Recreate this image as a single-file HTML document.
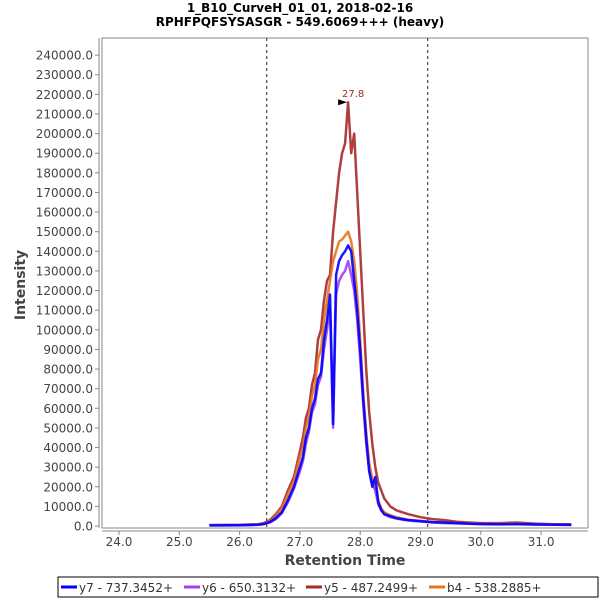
<!DOCTYPE html>
<html><head><meta charset="utf-8">
<style>
html,body{margin:0;padding:0;background:#fff;}
svg{display:block;font-family:"DejaVu Sans","Liberation Sans",sans-serif;}
</style></head>
<body>
<svg id="chart" width="600" height="600" viewBox="0 0 600 600">
  <text x="300" y="12" text-anchor="middle" font-size="12" font-weight="bold">1_B10_CurveH_01_01, 2018-02-16</text>
  <text x="300" y="26" text-anchor="middle" font-size="12" font-weight="bold">RPHFPQFSYSASGR - 549.6069+++ (heavy)</text>
  <rect x="102" y="38" width="486" height="490" fill="#fff" stroke="#888" stroke-width="1"/>
  <line x1="99" y1="38" x2="99" y2="528" stroke="#888"/>
  <line x1="102" y1="531" x2="588" y2="531" stroke="#888"/>
  <g id="yticks"></g>
  <g id="xticks"></g>
  <g id="marks"></g>
  <text transform="translate(25,285) rotate(-90)" text-anchor="middle" font-size="14" font-weight="bold" fill="#444">Intensity</text>
  <text x="345" y="565" text-anchor="middle" font-size="14" font-weight="bold" fill="#444">Retention Time</text>
  <g>
    <rect x="58" y="577" width="540" height="20" fill="#fff" stroke="#000"/>
    <g><line x1="61" y1="587" x2="77" y2="587" stroke="#0000ff" stroke-width="3"/><text x="79" y="592" font-size="12" fill="#333">y7 - 737.3452+</text></g>
    <g><line x1="184" y1="587" x2="200" y2="587" stroke="#a040f0" stroke-width="3"/><text x="202" y="592" font-size="12" fill="#333">y6 - 650.3132+</text></g>
    <g><line x1="306" y1="587" x2="322" y2="587" stroke="#a52a2a" stroke-width="3"/><text x="324" y="592" font-size="12" fill="#333">y5 - 487.2499+</text></g>
    <g><line x1="429" y1="587" x2="445" y2="587" stroke="#e8751a" stroke-width="3"/><text x="447" y="592" font-size="12" fill="#333">b4 - 538.2885+</text></g>
  </g>
</svg>
<script>
const times = [25.5,26.0,26.3,26.4,26.5,26.6,26.7,26.8,26.9,27.0,27.05,27.1,27.15,27.2,27.25,27.3,27.35,27.4,27.45,27.5,27.55,27.6,27.65,27.7,27.75,27.8,27.85,27.9,27.95,28.0,28.05,28.1,28.15,28.2,28.25,28.3,28.35,28.4,28.5,28.6,28.7,28.8,29.0,29.2,29.4,29.6,29.8,30.0,30.3,30.6,30.9,31.2,31.5];
const y5Values = [500,600,900,1500,3000,6000,10000,18000,25000,38000,45000,55000,60000,72000,78000,95000,100000,115000,125000,128000,150000,165000,180000,190000,195000,216000,190000,200000,170000,140000,110000,80000,58000,42000,30000,22000,18000,14000,10000,8000,7000,6000,4500,3500,3000,2200,1800,1500,1500,1800,1200,900,800];
const b4Values = [400,500,800,1200,2500,5000,9000,16000,23000,35000,40000,50000,56000,66000,72000,85000,90000,105000,115000,125000,135000,140000,145000,146000,148000,150000,145000,135000,118000,95000,68000,48000,32000,24000,20000,13000,9000,7000,5500,4500,3800,3200,2600,2000,1700,1500,1300,1100,1000,1200,900,800,700];
const y6Values = [300,400,600,900,1800,3500,6500,12000,19000,28000,33000,42000,48000,58000,62000,72000,76000,90000,100000,112000,50000,118000,125000,128000,130000,135000,128000,120000,105000,85000,62000,42000,28000,22000,18000,11000,8000,6000,4500,3800,3200,2800,2300,1800,1500,1300,1100,900,800,900,700,600,500];
const y7Values = [300,400,600,1000,2000,4000,7000,13000,20000,30000,35000,45000,50000,60000,65000,75000,78000,95000,105000,118000,52000,128000,135000,138000,140000,143000,140000,125000,110000,90000,65000,45000,28000,20000,25000,12000,8000,6000,5000,4000,3500,3000,2500,2000,1800,1500,1200,1000,900,1000,800,700,600];
const yTicks = [0,10000,20000,30000,40000,50000,60000,70000,80000,90000,100000,110000,120000,130000,140000,150000,160000,170000,180000,190000,200000,210000,220000,230000,240000];
const xTicks = [24,25,26,27,28,29,30,31];
const boundaries = [26.45, 29.12];
const peakTime = 27.8, peakValue = 216000;

const NS = "http://www.w3.org/2000/svg";
const xs = t => 119 + (t - 24) * 60.3;
const ys = v => 526 - v / 10000 * 19.62;
function mk(tag, attrs, parent) { const e = document.createElementNS(NS, tag); for (const k in attrs) e.setAttribute(k, attrs[k]); parent.appendChild(e); return e; }

const yt = document.getElementById('yticks');
yTicks.forEach(v => {
  const l = mk('line', {x1: 95, x2: 99, y1: ys(v), y2: ys(v), stroke: '#888'}, yt);
  
  
  const t = mk('text', {x: 93, y: ys(v) + 4.5, 'text-anchor': 'end', 'font-size': 12, fill: '#444'}, yt);
  
  
  t.textContent = v.toFixed(1);
});
const xt = document.getElementById('xticks');
xTicks.forEach(v => {
  const l = mk('line', {x1: xs(v), x2: xs(v), y1: 531, y2: 535, stroke: '#888'}, xt);
  
  
  const t = mk('text', {x: xs(v), y: 546, 'text-anchor': 'middle', 'font-size': 12, fill: '#444'}, xt);
  
  
  t.textContent = v.toFixed(1);
});
const g = document.getElementById('marks');
boundaries.forEach(b => {
  const l = mk('line', {x1: xs(b), x2: xs(b), y1: 38, y2: 528, stroke: '#222', 'stroke-dasharray': '3,3', 'stroke-width': 1}, g);
  
  
});
const series = [['y5', y5Values, '#a52a2a'], ['b4', b4Values, '#e8751a'], ['y6', y6Values, '#a040f0'], ['y7', y7Values, '#0000ff']];
series.forEach(([name, vals, col]) => {
  const d = vals.map((v, i) => (i ? 'L' : 'M') + xs(times[i]).toFixed(1) + ',' + ys(v).toFixed(1)).join('');
  const p = mk('path', {d: d, fill: 'none', stroke: col, 'stroke-width': 2.5, 'stroke-linejoin': 'round', opacity: 0.9}, g);
  
  
});
const px = xs(peakTime), py = ys(peakValue);
const tri = mk('polygon', {points: (px-10)+','+(py-3)+' '+(px-10)+','+(py+3)+' '+(px-1)+','+py, fill: '#000'}, g);


const lab = mk('text', {x: px + 5, y: py - 5, 'text-anchor': 'middle', 'font-size': 10, fill: '#a52a2a'}, g);


lab.textContent = peakTime.toFixed(1);
</script>
</body></html>
